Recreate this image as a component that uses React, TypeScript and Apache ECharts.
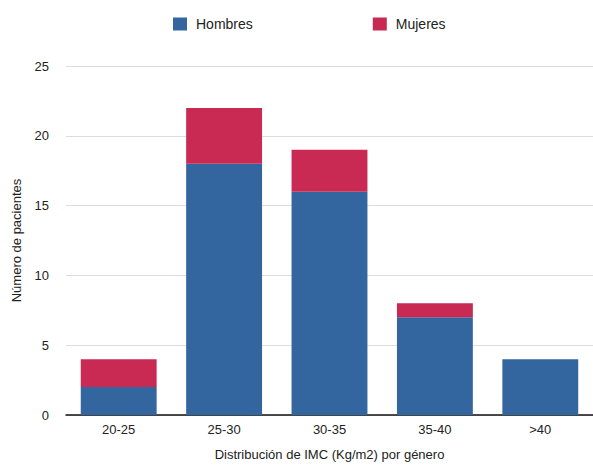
import React, { useEffect, useRef } from "react";
import * as echarts from "echarts";

const categories = ["20-25", "25-30", "30-35", "35-40", ">40"];
const hombres = [2, 18, 16, 7, 4];
const mujeres = [2, 4, 3, 1, 0];
const seriesNames = ["Hombres", "Mujeres"];

export default function App() {
  const ref = useRef<HTMLDivElement>(null);
  useEffect(() => {
    const chart = echarts.init(ref.current!, null, { renderer: "svg" });
    const font = "Liberation Sans, Arial, Helvetica, sans-serif";
    chart.setOption({
      animation: false,
      textStyle: { fontFamily: font },
      legend: {
        top: 12,
        left: 168,
        itemWidth: 14,
        itemHeight: 13,
        itemGap: 120,
        icon: "rect",
        textStyle: { fontSize: 14, color: "#222", fontFamily: font, padding: [0, 0, 0, 4] },
        data: seriesNames,
      },
      grid: { left: 66, right: -1, top: 66, bottom: 47 },
      xAxis: {
        type: "category",
        data: categories,
        axisLine: { lineStyle: { color: "#111", width: 1.5 } },
        axisTick: { show: false },
        axisLabel: { color: "#222", fontSize: 13, margin: 8, fontFamily: font },
        name: "Distribución de IMC (Kg/m2) por género",
        nameLocation: "middle",
        nameGap: 33,
        nameTextStyle: { color: "#222", fontSize: 13, fontFamily: font },
      },
      yAxis: {
        type: "value",
        min: 0,
        max: 25,
        interval: 5,
        axisLine: { show: false },
        axisTick: { show: false },
        splitLine: { lineStyle: { color: "#ddd" } },
        axisLabel: { color: "#222", fontSize: 13, margin: 17, fontFamily: font },
        name: "Número de pacientes",
        nameLocation: "middle",
        nameGap: 43,
        nameTextStyle: { color: "#222", fontSize: 13, fontFamily: font },
      },
      series: [
        {
          name: seriesNames[0],
          type: "bar",
          stack: "total",
          data: hombres,
          barCategoryGap: "28%",
          itemStyle: { color: "#33669f" },
        },
        {
          name: seriesNames[1],
          type: "bar",
          stack: "total",
          data: mujeres,
          barCategoryGap: "28%",
          itemStyle: { color: "#c92a54" },
        },
      ],
    });
    return () => chart.dispose();
  }, []);
  return (
    <div
      ref={ref}
      style={{ position: "fixed", left: 0, top: 0, width: 593, height: 466, background: "#fff" }}
    />
  );
}
